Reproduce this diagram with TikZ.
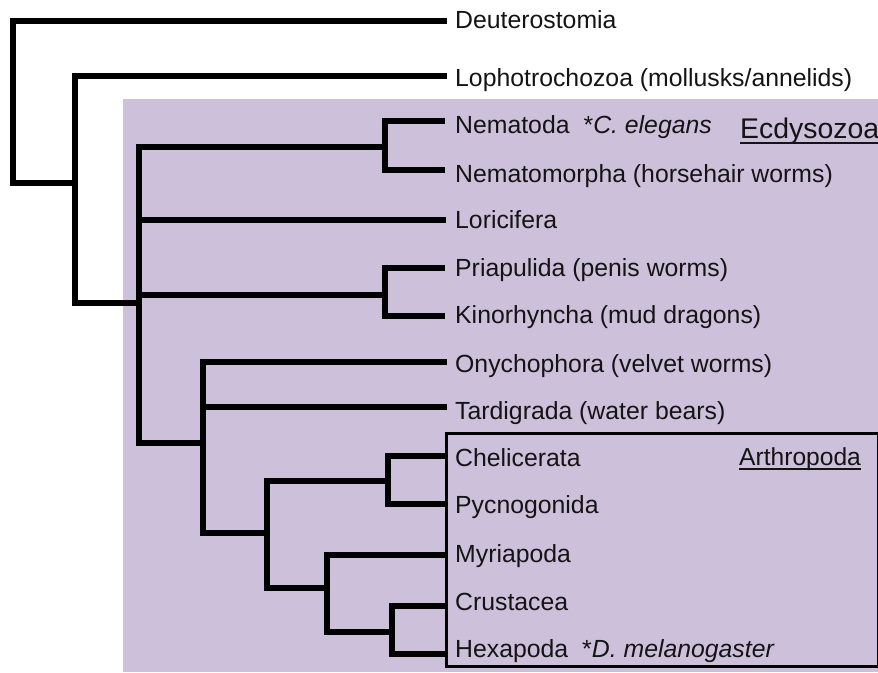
\documentclass[tikz,border=0pt]{standalone}
\usepackage{fontspec}
\setmainfont{Liberation Sans}
\definecolor{ecdbg}{RGB}{205,192,219}
\definecolor{inkc}{RGB}{20,20,20}
\begin{document}
\begin{tikzpicture}[x=1pt,y=-1pt,
  tree/.style={line width=5.5pt, line cap=rect, line join=miter, draw=black},
  leaf/.style={anchor=base west, inner sep=0pt, text=inkc, font=\fontsize{24.8}{28}\selectfont},
  title/.style={anchor=base west, inner sep=0pt, text=inkc},
  ul/.style={line width=2pt, draw=inkc}]
\useasboundingbox (0,0) rectangle (878,672);
\fill[ecdbg] (123,99) rectangle (878,672);

% leaf line ends
\coordinate (eDeut) at (444,21);
\coordinate (eLoph) at (444,76);
\coordinate (eNema) at (442,121);
\coordinate (eNemo) at (442,170);
\coordinate (eLori) at (443,220);
\coordinate (ePri)  at (442,268);
\coordinate (eKin)  at (442,316);
\coordinate (eOny)  at (444,362);
\coordinate (eTar)  at (444,407);
\coordinate (eChe)  at (443,456);
\coordinate (ePyc)  at (443,504);
\coordinate (eMyr)  at (443,555);
\coordinate (eCru)  at (443,606);
\coordinate (eHex)  at (443,654);

% internal nodes
\coordinate (root) at (13,183);
\coordinate (n2)   at (75,183);
\coordinate (ecd)  at (139,303);
\coordinate (nem)  at (385,147);
\coordinate (pri)  at (385,295);
\coordinate (pan)  at (203,443);
\coordinate (arth) at (267,533);
\coordinate (cp)   at (388,481);
\coordinate (mand) at (327,588);
\coordinate (ch)   at (392,632);

% tree
\draw[tree] (root) |- (eDeut);
\draw[tree] (root) -- (n2);
\draw[tree] (n2) |- (eLoph);
\draw[tree] (n2) |- (ecd);
\draw[tree] (ecd) |- (nem);
\draw[tree] (ecd) |- (eLori);
\draw[tree] (ecd) |- (pri);
\draw[tree] (ecd) |- (pan);
\draw[tree] (nem) |- (eNema);
\draw[tree] (nem) |- (eNemo);
\draw[tree] (pri) |- (ePri);
\draw[tree] (pri) |- (eKin);
\draw[tree] (pan) |- (eOny);
\draw[tree] (pan) |- (eTar);
\draw[tree] (pan) |- (arth);
\draw[tree] (arth) |- (cp);
\draw[tree] (arth) |- (mand);
\draw[tree] (cp) |- (eChe);
\draw[tree] (cp) |- (ePyc);
\draw[tree] (mand) |- (eMyr);
\draw[tree] (mand) |- (ch);
\draw[tree] (ch) |- (eCru);
\draw[tree] (ch) |- (eHex);

% Arthropoda box
\node[draw=black, line width=3pt, minimum width=432pt, minimum height=233pt,
      anchor=north west, inner sep=0pt] (abox) at (445,432) {};

% labels
\node[leaf] (lDeut) at (455,28)  {Deuterostomia};
\node[leaf] (lLoph) at (455,86)  {Lophotrochozoa (mollusks/annelids)};
\node[leaf] (lNema) at (455,133) {Nematoda\hspace{14pt}*\textit{C. elegans}};
\node[leaf] (lNemo) at (455,182) {Nematomorpha (horsehair worms)};
\node[leaf] (lLori) at (455,228) {Loricifera};
\node[leaf] (lPri)  at (455,276) {Priapulida (penis worms)};
\node[leaf] (lKin)  at (455,323) {Kinorhyncha (mud dragons)};
\node[leaf] (lOny)  at (455,372) {Onychophora (velvet worms)};
\node[leaf] (lTar)  at (455,419) {Tardigrada (water bears)};
\node[leaf] (lChe)  at (455,466) {Chelicerata};
\node[leaf] (lPyc)  at (455,513) {Pycnogonida};
\node[leaf] (lMyr)  at (455,562) {Myriapoda};
\node[leaf] (lCru)  at (455,610) {Crustacea};
\node[leaf] (lHex)  at (455,657) {Hexapoda\hspace{14pt}*\textit{D. melanogaster}};

\node[title, font=\fontsize{28.4}{32}\selectfont] (lEcd) at (740,138) {Ecdysozoa};
\draw[ul] ([yshift=-5pt]lEcd.base west) -- ([yshift=-5pt]lEcd.base east);
\node[title, font=\fontsize{24.6}{28}\selectfont] (lArth) at (739,465) {Arthropoda};
\draw[ul] ([yshift=-3.5pt]lArth.base west) -- ([yshift=-3.5pt]lArth.base east);
\end{tikzpicture}
\end{document}
